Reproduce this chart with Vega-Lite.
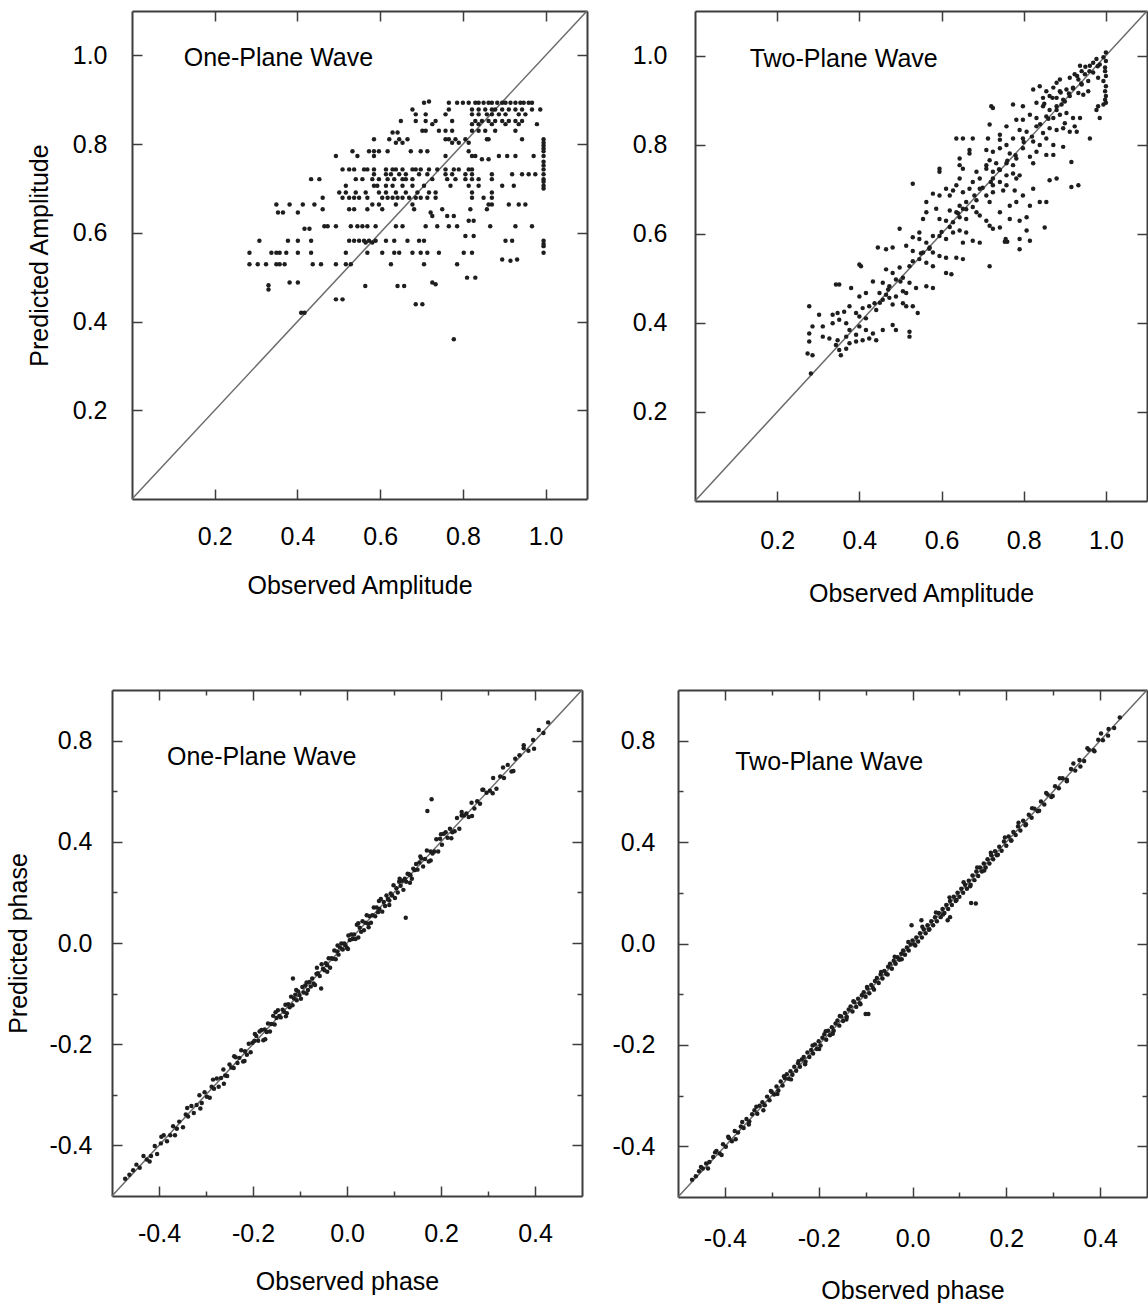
{
  "$schema": "https://vega.github.io/schema/vega-lite/v6.json",
  "padding": {"left": 6, "top": 10, "right": 0, "bottom": 0},
  "config": {
    "font": "Liberation Sans",
    "view": {"stroke": null},
    "axis": {
      "domain": true,
      "domainColor": "#3d3d3d",
      "domainWidth": 2,
      "grid": false,
      "tickColor": "#3d3d3d",
      "tickWidth": 1.5,
      "tickSize": -10,
      "labelFont": "Liberation Sans",
      "labelFontSize": 25,
      "labelColor": "#000000",
      "titleFont": "Liberation Sans",
      "titleFontSize": 25,
      "titleFontWeight": "normal",
      "titleColor": "#000000",
      "labelOverlap": false,
      "labelFlush": false
    }
  },
  "datasets": {
    "ampOnePlane": [
      {"obs":0.706,"pred":0.893},{"obs":0.718,"pred":0.896},{"obs":0.766,"pred":0.893},{"obs":0.786,"pred":0.893},{"obs":0.800,"pred":0.893},{"obs":0.814,"pred":0.893},{"obs":0.830,"pred":0.893},{"obs":0.838,"pred":0.893},{"obs":0.850,"pred":0.893},{"obs":0.862,"pred":0.893},{"obs":0.870,"pred":0.893},{"obs":0.883,"pred":0.893},{"obs":0.895,"pred":0.893},{"obs":0.903,"pred":0.893},{"obs":0.915,"pred":0.893},{"obs":0.927,"pred":0.893},{"obs":0.939,"pred":0.893},{"obs":0.947,"pred":0.893},{"obs":0.959,"pred":0.893},{"obs":0.967,"pred":0.893},
      {"obs":0.678,"pred":0.878},{"obs":0.766,"pred":0.878},{"obs":0.822,"pred":0.878},{"obs":0.838,"pred":0.878},{"obs":0.854,"pred":0.878},{"obs":0.870,"pred":0.878},{"obs":0.878,"pred":0.878},{"obs":0.895,"pred":0.878},{"obs":0.911,"pred":0.878},{"obs":0.927,"pred":0.878},{"obs":0.943,"pred":0.878},{"obs":0.967,"pred":0.878},{"obs":0.987,"pred":0.878},
      {"obs":0.686,"pred":0.867},{"obs":0.710,"pred":0.867},{"obs":0.758,"pred":0.867},{"obs":0.822,"pred":0.867},{"obs":0.838,"pred":0.867},{"obs":0.858,"pred":0.867},{"obs":0.870,"pred":0.867},{"obs":0.887,"pred":0.867},{"obs":0.903,"pred":0.867},{"obs":0.935,"pred":0.867},{"obs":0.951,"pred":0.867},
      {"obs":0.650,"pred":0.852},{"obs":0.686,"pred":0.852},{"obs":0.710,"pred":0.852},{"obs":0.734,"pred":0.852},{"obs":0.774,"pred":0.852},{"obs":0.830,"pred":0.852},{"obs":0.846,"pred":0.852},{"obs":0.862,"pred":0.852},{"obs":0.878,"pred":0.852},{"obs":0.895,"pred":0.852},{"obs":0.911,"pred":0.852},{"obs":0.927,"pred":0.852},{"obs":0.943,"pred":0.852},
      {"obs":0.726,"pred":0.845},{"obs":0.822,"pred":0.845},{"obs":0.838,"pred":0.845},{"obs":0.870,"pred":0.845},{"obs":0.903,"pred":0.845},{"obs":0.935,"pred":0.845},{"obs":0.979,"pred":0.845},
      {"obs":0.702,"pred":0.830},{"obs":0.710,"pred":0.830},{"obs":0.742,"pred":0.830},{"obs":0.758,"pred":0.830},{"obs":0.774,"pred":0.830},{"obs":0.822,"pred":0.830},{"obs":0.838,"pred":0.830},{"obs":0.854,"pred":0.830},{"obs":0.878,"pred":0.830},{"obs":0.927,"pred":0.830},
      {"obs":0.630,"pred":0.826},{"obs":0.642,"pred":0.826},
      {"obs":0.585,"pred":0.811},{"obs":0.622,"pred":0.811},{"obs":0.646,"pred":0.811},{"obs":0.666,"pred":0.811},{"obs":0.758,"pred":0.811},{"obs":0.766,"pred":0.811},{"obs":0.782,"pred":0.811},{"obs":0.806,"pred":0.811},{"obs":0.858,"pred":0.811},{"obs":0.862,"pred":0.811},{"obs":0.943,"pred":0.811},{"obs":0.995,"pred":0.811},
      {"obs":0.638,"pred":0.803},{"obs":0.654,"pred":0.803},{"obs":0.774,"pred":0.803},{"obs":0.790,"pred":0.803},{"obs":0.814,"pred":0.803},{"obs":0.995,"pred":0.803},
      {"obs":0.533,"pred":0.784},{"obs":0.573,"pred":0.784},{"obs":0.585,"pred":0.784},{"obs":0.597,"pred":0.784},{"obs":0.618,"pred":0.784},{"obs":0.674,"pred":0.784},{"obs":0.698,"pred":0.784},{"obs":0.714,"pred":0.784},{"obs":0.814,"pred":0.784},{"obs":0.995,"pred":0.784},
      {"obs":0.493,"pred":0.773},{"obs":0.545,"pred":0.773},{"obs":0.585,"pred":0.773},{"obs":0.758,"pred":0.773},{"obs":0.822,"pred":0.773},{"obs":0.830,"pred":0.773},{"obs":0.846,"pred":0.766},{"obs":0.862,"pred":0.766},{"obs":0.887,"pred":0.773},{"obs":0.907,"pred":0.773},{"obs":0.927,"pred":0.773},{"obs":0.971,"pred":0.773},{"obs":0.995,"pred":0.773},
      {"obs":0.509,"pred":0.743},{"obs":0.525,"pred":0.743},{"obs":0.537,"pred":0.743},{"obs":0.561,"pred":0.743},{"obs":0.569,"pred":0.743},{"obs":0.585,"pred":0.743},{"obs":0.614,"pred":0.743},{"obs":0.630,"pred":0.743},{"obs":0.638,"pred":0.743},{"obs":0.654,"pred":0.743},{"obs":0.678,"pred":0.743},{"obs":0.686,"pred":0.743},{"obs":0.698,"pred":0.743},{"obs":0.718,"pred":0.743},{"obs":0.738,"pred":0.743},{"obs":0.758,"pred":0.743},{"obs":0.778,"pred":0.743},{"obs":0.790,"pred":0.743},{"obs":0.814,"pred":0.743},{"obs":0.822,"pred":0.743},{"obs":0.995,"pred":0.743},
      {"obs":0.585,"pred":0.732},{"obs":0.614,"pred":0.732},{"obs":0.626,"pred":0.732},{"obs":0.646,"pred":0.732},{"obs":0.662,"pred":0.732},{"obs":0.694,"pred":0.732},{"obs":0.714,"pred":0.732},{"obs":0.758,"pred":0.732},{"obs":0.774,"pred":0.732},{"obs":0.806,"pred":0.732},{"obs":0.822,"pred":0.732},{"obs":0.870,"pred":0.732},{"obs":0.919,"pred":0.732},{"obs":0.943,"pred":0.732},{"obs":0.959,"pred":0.732},{"obs":0.975,"pred":0.732},{"obs":0.995,"pred":0.732},
      {"obs":0.433,"pred":0.721},{"obs":0.453,"pred":0.721},{"obs":0.541,"pred":0.721},{"obs":0.557,"pred":0.721},{"obs":0.581,"pred":0.721},{"obs":0.597,"pred":0.721},{"obs":0.618,"pred":0.721},{"obs":0.634,"pred":0.721},{"obs":0.654,"pred":0.721},{"obs":0.662,"pred":0.721},{"obs":0.678,"pred":0.721},{"obs":0.726,"pred":0.721},{"obs":0.762,"pred":0.721},{"obs":0.782,"pred":0.721},{"obs":0.806,"pred":0.721},{"obs":0.822,"pred":0.721},{"obs":0.838,"pred":0.721},{"obs":0.870,"pred":0.721},{"obs":0.995,"pred":0.721},
      {"obs":0.517,"pred":0.706},{"obs":0.585,"pred":0.706},{"obs":0.593,"pred":0.706},{"obs":0.614,"pred":0.706},{"obs":0.630,"pred":0.706},{"obs":0.654,"pred":0.706},{"obs":0.678,"pred":0.706},{"obs":0.706,"pred":0.706},{"obs":0.770,"pred":0.706},{"obs":0.814,"pred":0.706},{"obs":0.838,"pred":0.706},{"obs":0.895,"pred":0.706},{"obs":0.923,"pred":0.706},{"obs":0.995,"pred":0.706},
      {"obs":0.501,"pred":0.691},{"obs":0.517,"pred":0.691},{"obs":0.541,"pred":0.691},{"obs":0.565,"pred":0.691},{"obs":0.597,"pred":0.691},{"obs":0.614,"pred":0.691},{"obs":0.638,"pred":0.691},{"obs":0.662,"pred":0.691},{"obs":0.690,"pred":0.691},{"obs":0.718,"pred":0.691},{"obs":0.734,"pred":0.691},{"obs":0.822,"pred":0.691},{"obs":0.870,"pred":0.691},
      {"obs":0.461,"pred":0.679},{"obs":0.509,"pred":0.679},{"obs":0.525,"pred":0.679},{"obs":0.537,"pred":0.679},{"obs":0.549,"pred":0.679},{"obs":0.569,"pred":0.679},{"obs":0.605,"pred":0.679},{"obs":0.618,"pred":0.679},{"obs":0.630,"pred":0.679},{"obs":0.642,"pred":0.679},{"obs":0.654,"pred":0.679},{"obs":0.670,"pred":0.679},{"obs":0.686,"pred":0.679},{"obs":0.698,"pred":0.679},{"obs":0.714,"pred":0.679},{"obs":0.734,"pred":0.679},{"obs":0.822,"pred":0.679},{"obs":0.850,"pred":0.679},{"obs":0.870,"pred":0.679},
      {"obs":0.349,"pred":0.664},{"obs":0.381,"pred":0.664},{"obs":0.413,"pred":0.664},{"obs":0.441,"pred":0.664},{"obs":0.581,"pred":0.664},{"obs":0.597,"pred":0.664},{"obs":0.638,"pred":0.664},{"obs":0.678,"pred":0.664},{"obs":0.862,"pred":0.664},{"obs":0.870,"pred":0.664},{"obs":0.911,"pred":0.664},{"obs":0.935,"pred":0.664},{"obs":0.951,"pred":0.664},
      {"obs":0.461,"pred":0.653},{"obs":0.525,"pred":0.653},{"obs":0.537,"pred":0.653},{"obs":0.569,"pred":0.653},{"obs":0.605,"pred":0.653},{"obs":0.682,"pred":0.653},{"obs":0.750,"pred":0.653},{"obs":0.818,"pred":0.653},{"obs":0.858,"pred":0.653},
      {"obs":0.353,"pred":0.646},{"obs":0.365,"pred":0.646},{"obs":0.401,"pred":0.646},{"obs":0.722,"pred":0.646},
      {"obs":0.726,"pred":0.638},{"obs":0.762,"pred":0.638},{"obs":0.778,"pred":0.638},
      {"obs":0.814,"pred":0.627},{"obs":0.826,"pred":0.627},
      {"obs":0.465,"pred":0.615},{"obs":0.473,"pred":0.615},{"obs":0.493,"pred":0.615},{"obs":0.529,"pred":0.615},{"obs":0.545,"pred":0.615},{"obs":0.557,"pred":0.615},{"obs":0.569,"pred":0.615},{"obs":0.589,"pred":0.615},{"obs":0.638,"pred":0.615},{"obs":0.654,"pred":0.615},{"obs":0.710,"pred":0.615},{"obs":0.738,"pred":0.615},{"obs":0.766,"pred":0.615},{"obs":0.786,"pred":0.615},{"obs":0.866,"pred":0.615},{"obs":0.927,"pred":0.615},{"obs":0.967,"pred":0.615},
      {"obs":0.417,"pred":0.609},{"obs":0.429,"pred":0.609},
      {"obs":0.806,"pred":0.593},{"obs":0.826,"pred":0.593},
      {"obs":0.308,"pred":0.582},{"obs":0.377,"pred":0.582},{"obs":0.401,"pred":0.582},{"obs":0.433,"pred":0.582},{"obs":0.525,"pred":0.582},{"obs":0.537,"pred":0.582},{"obs":0.549,"pred":0.582},{"obs":0.561,"pred":0.582},{"obs":0.573,"pred":0.582},{"obs":0.589,"pred":0.582},{"obs":0.614,"pred":0.582},{"obs":0.634,"pred":0.582},{"obs":0.666,"pred":0.582},{"obs":0.694,"pred":0.582},{"obs":0.706,"pred":0.582},{"obs":0.903,"pred":0.582},{"obs":0.919,"pred":0.582},{"obs":0.995,"pred":0.582},
      {"obs":0.565,"pred":0.578},{"obs":0.581,"pred":0.578},
      {"obs":0.284,"pred":0.555},{"obs":0.337,"pred":0.555},{"obs":0.349,"pred":0.555},{"obs":0.357,"pred":0.555},{"obs":0.373,"pred":0.555},{"obs":0.401,"pred":0.555},{"obs":0.433,"pred":0.555},{"obs":0.517,"pred":0.555},{"obs":0.569,"pred":0.555},{"obs":0.605,"pred":0.555},{"obs":0.634,"pred":0.555},{"obs":0.646,"pred":0.555},{"obs":0.678,"pred":0.555},{"obs":0.698,"pred":0.555},{"obs":0.714,"pred":0.555},{"obs":0.742,"pred":0.555},{"obs":0.802,"pred":0.555},{"obs":0.822,"pred":0.555},{"obs":0.995,"pred":0.555},
      {"obs":0.895,"pred":0.540},{"obs":0.915,"pred":0.537},{"obs":0.931,"pred":0.540},
      {"obs":0.284,"pred":0.529},{"obs":0.304,"pred":0.529},{"obs":0.324,"pred":0.529},{"obs":0.349,"pred":0.529},{"obs":0.357,"pred":0.529},{"obs":0.369,"pred":0.529},{"obs":0.437,"pred":0.529},{"obs":0.457,"pred":0.529},{"obs":0.493,"pred":0.529},{"obs":0.517,"pred":0.529},{"obs":0.529,"pred":0.529},{"obs":0.626,"pred":0.529},{"obs":0.706,"pred":0.529},{"obs":0.786,"pred":0.529},
      {"obs":0.810,"pred":0.499},{"obs":0.830,"pred":0.499},
      {"obs":0.381,"pred":0.488},{"obs":0.401,"pred":0.488},{"obs":0.726,"pred":0.488},{"obs":0.734,"pred":0.484},
      {"obs":0.564,"pred":0.480},{"obs":0.642,"pred":0.480},{"obs":0.658,"pred":0.480},
      {"obs":0.330,"pred":0.482},{"obs":0.330,"pred":0.472},
      {"obs":0.493,"pred":0.450},{"obs":0.509,"pred":0.450},
      {"obs":0.686,"pred":0.439},{"obs":0.702,"pred":0.439},
      {"obs":0.409,"pred":0.420},{"obs":0.417,"pred":0.420},
      {"obs":0.778,"pred":0.360},
      {"obs":0.995,"pred":0.760},{"obs":0.995,"pred":0.752},{"obs":0.995,"pred":0.700},{"obs":0.995,"pred":0.715},{"obs":0.995,"pred":0.790},{"obs":0.995,"pred":0.797},{"obs":0.995,"pred":0.570},{"obs":0.995,"pred":0.575}
    ],
    "ampTwoPlane": [
      {"obs":1.000,"pred":1.007},{"obs":0.994,"pred":0.996},{"obs":0.977,"pred":0.992},{"obs":0.969,"pred":0.984},{"obs":0.985,"pred":0.980},{"obs":1.000,"pred":0.988},{"obs":0.998,"pred":0.973},{"obs":0.961,"pred":0.977},
      {"obs":0.998,"pred":0.965},{"obs":1.000,"pred":0.954},{"obs":0.994,"pred":0.943},{"obs":1.000,"pred":0.931},{"obs":0.998,"pred":0.920},{"obs":1.000,"pred":0.909},{"obs":0.998,"pred":0.901},{"obs":0.994,"pred":0.890},
      {"obs":0.937,"pred":0.977},{"obs":0.941,"pred":0.965},{"obs":0.949,"pred":0.958},{"obs":0.924,"pred":0.958},{"obs":0.969,"pred":0.962},{"obs":0.981,"pred":0.950},{"obs":0.933,"pred":0.946},{"obs":0.912,"pred":0.950},{"obs":0.957,"pred":0.943},{"obs":0.888,"pred":0.946},{"obs":0.880,"pred":0.939},{"obs":0.941,"pred":0.935},
      {"obs":0.839,"pred":0.931},{"obs":0.855,"pred":0.920},{"obs":0.872,"pred":0.928},{"obs":0.888,"pred":0.920},{"obs":0.904,"pred":0.924},{"obs":0.920,"pred":0.928},{"obs":0.933,"pred":0.916},{"obs":0.945,"pred":0.912},{"obs":0.957,"pred":0.920},{"obs":0.863,"pred":0.909},{"obs":0.847,"pred":0.905},{"obs":0.880,"pred":0.905},{"obs":0.896,"pred":0.901},{"obs":0.912,"pred":0.909},{"obs":0.823,"pred":0.924},{"obs":0.831,"pred":0.894},{"obs":0.892,"pred":0.890},{"obs":0.981,"pred":0.886},{"obs":1.000,"pred":0.894},
      {"obs":0.847,"pred":0.886},{"obs":0.863,"pred":0.878},{"obs":0.880,"pred":0.878},{"obs":0.888,"pred":0.867},{"obs":0.904,"pred":0.871},{"obs":0.920,"pred":0.860},{"obs":0.872,"pred":0.860},{"obs":0.855,"pred":0.863},{"obs":0.831,"pred":0.860},{"obs":0.815,"pred":0.867},{"obs":0.798,"pred":0.856},{"obs":0.782,"pred":0.856},{"obs":0.774,"pred":0.890},{"obs":0.798,"pred":0.886},{"obs":0.721,"pred":0.886},{"obs":0.725,"pred":0.882},{"obs":0.977,"pred":0.878},{"obs":0.985,"pred":0.860},{"obs":0.937,"pred":0.860},{"obs":0.900,"pred":0.848},{"obs":0.924,"pred":0.841},{"obs":0.961,"pred":0.814},
      {"obs":0.758,"pred":0.841},{"obs":0.790,"pred":0.833},{"obs":0.807,"pred":0.829},{"obs":0.831,"pred":0.841},{"obs":0.847,"pred":0.826},{"obs":0.863,"pred":0.837},{"obs":0.880,"pred":0.833},{"obs":0.896,"pred":0.837},{"obs":0.912,"pred":0.829},{"obs":0.929,"pred":0.829},{"obs":0.742,"pred":0.822},{"obs":0.774,"pred":0.814},{"obs":0.798,"pred":0.814},{"obs":0.823,"pred":0.807},{"obs":0.839,"pred":0.799},{"obs":0.855,"pred":0.814},{"obs":0.872,"pred":0.799},{"obs":0.896,"pred":0.795},{"obs":0.713,"pred":0.814},{"obs":0.717,"pred":0.845},{"obs":0.636,"pred":0.814},{"obs":0.652,"pred":0.814},{"obs":0.676,"pred":0.814},{"obs":0.742,"pred":0.811},{"obs":0.758,"pred":0.799},
      {"obs":0.668,"pred":0.788},{"obs":0.668,"pred":0.780},{"obs":0.709,"pred":0.788},{"obs":0.725,"pred":0.784},{"obs":0.742,"pred":0.792},{"obs":0.766,"pred":0.780},{"obs":0.782,"pred":0.769},{"obs":0.798,"pred":0.792},{"obs":0.815,"pred":0.773},{"obs":0.831,"pred":0.784},{"obs":0.855,"pred":0.777},{"obs":0.872,"pred":0.777},{"obs":0.916,"pred":0.761},{"obs":0.717,"pred":0.765},{"obs":0.733,"pred":0.758},{"obs":0.758,"pred":0.758},{"obs":0.774,"pred":0.754},{"obs":0.823,"pred":0.758},{"obs":0.644,"pred":0.769},{"obs":0.709,"pred":0.754},
      {"obs":0.644,"pred":0.754},{"obs":0.652,"pred":0.746},{"obs":0.685,"pred":0.739},{"obs":0.709,"pred":0.746},{"obs":0.725,"pred":0.739},{"obs":0.742,"pred":0.743},{"obs":0.758,"pred":0.731},{"obs":0.774,"pred":0.735},{"obs":0.782,"pred":0.724},{"obs":0.693,"pred":0.724},{"obs":0.725,"pred":0.724},{"obs":0.742,"pred":0.716},{"obs":0.676,"pred":0.716},{"obs":0.644,"pred":0.724},{"obs":0.636,"pred":0.709},{"obs":0.595,"pred":0.746},{"obs":0.595,"pred":0.739},{"obs":0.790,"pred":0.731},{"obs":0.863,"pred":0.720},{"obs":0.880,"pred":0.724},{"obs":0.916,"pred":0.705},{"obs":0.933,"pred":0.709},{"obs":0.530,"pred":0.712},{"obs":0.725,"pred":0.709},{"obs":0.758,"pred":0.709},
      {"obs":0.611,"pred":0.701},{"obs":0.628,"pred":0.697},{"obs":0.652,"pred":0.693},{"obs":0.668,"pred":0.701},{"obs":0.693,"pred":0.701},{"obs":0.709,"pred":0.686},{"obs":0.717,"pred":0.671},{"obs":0.685,"pred":0.675},{"obs":0.660,"pred":0.671},{"obs":0.644,"pred":0.663},{"obs":0.620,"pred":0.686},{"obs":0.579,"pred":0.690},{"obs":0.595,"pred":0.686},{"obs":0.563,"pred":0.671},{"obs":0.750,"pred":0.697},{"obs":0.778,"pred":0.697},{"obs":0.823,"pred":0.701},{"obs":0.798,"pred":0.686},{"obs":0.725,"pred":0.693},{"obs":0.782,"pred":0.671},{"obs":0.815,"pred":0.663},{"obs":0.839,"pred":0.671},{"obs":0.855,"pred":0.671},{"obs":0.766,"pred":0.663},
      {"obs":0.587,"pred":0.656},{"obs":0.620,"pred":0.652},{"obs":0.636,"pred":0.648},{"obs":0.652,"pred":0.656},{"obs":0.676,"pred":0.660},{"obs":0.685,"pred":0.648},{"obs":0.563,"pred":0.648},{"obs":0.595,"pred":0.633},{"obs":0.611,"pred":0.629},{"obs":0.628,"pred":0.626},{"obs":0.644,"pred":0.637},{"obs":0.660,"pred":0.633},{"obs":0.693,"pred":0.641},{"obs":0.709,"pred":0.629},{"obs":0.742,"pred":0.648},{"obs":0.766,"pred":0.633},{"obs":0.790,"pred":0.629},{"obs":0.807,"pred":0.637},{"obs":0.742,"pred":0.614},{"obs":0.717,"pred":0.618},{"obs":0.555,"pred":0.633},
      {"obs":0.498,"pred":0.611},{"obs":0.530,"pred":0.592},{"obs":0.546,"pred":0.588},{"obs":0.563,"pred":0.580},{"obs":0.579,"pred":0.595},{"obs":0.595,"pred":0.595},{"obs":0.611,"pred":0.588},{"obs":0.628,"pred":0.603},{"obs":0.644,"pred":0.607},{"obs":0.660,"pred":0.603},{"obs":0.676,"pred":0.584},{"obs":0.652,"pred":0.580},{"obs":0.693,"pred":0.580},{"obs":0.725,"pred":0.611},{"obs":0.756,"pred":0.588},{"obs":0.760,"pred":0.582},{"obs":0.754,"pred":0.582},{"obs":0.790,"pred":0.588},{"obs":0.807,"pred":0.607},{"obs":0.815,"pred":0.584},{"obs":0.790,"pred":0.565},{"obs":0.851,"pred":0.614},{"obs":0.546,"pred":0.603},{"obs":0.571,"pred":0.569},
      {"obs":0.445,"pred":0.569},{"obs":0.465,"pred":0.565},{"obs":0.481,"pred":0.569},{"obs":0.514,"pred":0.573},{"obs":0.530,"pred":0.561},{"obs":0.555,"pred":0.558},{"obs":0.579,"pred":0.558},{"obs":0.595,"pred":0.550},{"obs":0.611,"pred":0.546},{"obs":0.636,"pred":0.546},{"obs":0.652,"pred":0.543},{"obs":0.546,"pred":0.543},{"obs":0.563,"pred":0.535},{"obs":0.522,"pred":0.527},{"obs":0.498,"pred":0.524},{"obs":0.465,"pred":0.520},{"obs":0.481,"pred":0.512},{"obs":0.400,"pred":0.531},{"obs":0.404,"pred":0.527},{"obs":0.611,"pred":0.512},{"obs":0.624,"pred":0.509},{"obs":0.717,"pred":0.527},{"obs":0.579,"pred":0.527},
      {"obs":0.433,"pred":0.493},{"obs":0.457,"pred":0.490},{"obs":0.473,"pred":0.482},{"obs":0.489,"pred":0.497},{"obs":0.506,"pred":0.501},{"obs":0.522,"pred":0.490},{"obs":0.538,"pred":0.478},{"obs":0.563,"pred":0.482},{"obs":0.579,"pred":0.478},{"obs":0.449,"pred":0.467},{"obs":0.465,"pred":0.463},{"obs":0.489,"pred":0.459},{"obs":0.506,"pred":0.471},{"obs":0.514,"pred":0.467},{"obs":0.343,"pred":0.486},{"obs":0.351,"pred":0.486},{"obs":0.380,"pred":0.478},{"obs":0.416,"pred":0.467},{"obs":0.400,"pred":0.459},
      {"obs":0.437,"pred":0.444},{"obs":0.424,"pred":0.437},{"obs":0.408,"pred":0.433},{"obs":0.392,"pred":0.422},{"obs":0.376,"pred":0.437},{"obs":0.363,"pred":0.425},{"obs":0.347,"pred":0.422},{"obs":0.335,"pred":0.418},{"obs":0.302,"pred":0.418},{"obs":0.278,"pred":0.437},{"obs":0.441,"pred":0.429},{"obs":0.457,"pred":0.452},{"obs":0.473,"pred":0.456},{"obs":0.481,"pred":0.441},{"obs":0.506,"pred":0.444},{"obs":0.514,"pred":0.437},{"obs":0.530,"pred":0.437},{"obs":0.542,"pred":0.422},{"obs":0.400,"pred":0.414},{"obs":0.416,"pred":0.410},
      {"obs":0.286,"pred":0.392},{"obs":0.278,"pred":0.376},{"obs":0.311,"pred":0.392},{"obs":0.335,"pred":0.399},{"obs":0.351,"pred":0.407},{"obs":0.368,"pred":0.399},{"obs":0.376,"pred":0.384},{"obs":0.392,"pred":0.373},{"obs":0.400,"pred":0.392},{"obs":0.416,"pred":0.384},{"obs":0.433,"pred":0.376},{"obs":0.457,"pred":0.384},{"obs":0.481,"pred":0.395},{"obs":0.489,"pred":0.384},{"obs":0.522,"pred":0.380},{"obs":0.522,"pred":0.369},{"obs":0.311,"pred":0.369},{"obs":0.327,"pred":0.365},{"obs":0.347,"pred":0.361},{"obs":0.368,"pred":0.369},
      {"obs":0.278,"pred":0.358},{"obs":0.274,"pred":0.331},{"obs":0.286,"pred":0.327},{"obs":0.343,"pred":0.350},{"obs":0.351,"pred":0.339},{"obs":0.368,"pred":0.342},{"obs":0.355,"pred":0.327},{"obs":0.376,"pred":0.354},{"obs":0.392,"pred":0.358},{"obs":0.408,"pred":0.361},{"obs":0.424,"pred":0.365},{"obs":0.441,"pred":0.361},{"obs":0.282,"pred":0.286},
      {"obs":0.450,"pred":0.445},{"obs":0.470,"pred":0.475},{"obs":0.500,"pred":0.493},{"obs":0.530,"pred":0.538},{"obs":0.550,"pred":0.556},{"obs":0.570,"pred":0.566},{"obs":0.600,"pred":0.604},{"obs":0.620,"pred":0.615},{"obs":0.640,"pred":0.646},{"obs":0.660,"pred":0.655},{"obs":0.680,"pred":0.686},{"obs":0.700,"pred":0.703},{"obs":0.720,"pred":0.716},{"obs":0.740,"pred":0.745},{"obs":0.760,"pred":0.764},{"obs":0.780,"pred":0.776},{"obs":0.800,"pred":0.806},{"obs":0.820,"pred":0.818},{"obs":0.840,"pred":0.846},{"obs":0.860,"pred":0.858},{"obs":0.880,"pred":0.886},{"obs":0.900,"pred":0.897},{"obs":0.920,"pred":0.926},{"obs":0.940,"pred":0.937},{"obs":0.960,"pred":0.965},{"obs":0.980,"pred":0.976},{"obs":0.870,"pred":0.905},{"obs":0.890,"pred":0.917},{"obs":0.910,"pred":0.915},{"obs":0.850,"pred":0.892},{"obs":0.930,"pred":0.954},{"obs":0.950,"pred":0.975}
    ],
    "phaseOnePlane": [
      {"obs":-0.472,"pred":-0.466},{"obs":-0.463,"pred":-0.458},{"obs":-0.455,"pred":-0.449},{"obs":-0.441,"pred":-0.444},{"obs":-0.433,"pred":-0.421},{"obs":-0.426,"pred":-0.428},{"obs":-0.417,"pred":-0.421},{"obs":-0.409,"pred":-0.401},{"obs":-0.404,"pred":-0.417},{"obs":-0.396,"pred":-0.396},{"obs":-0.390,"pred":-0.380},{"obs":-0.383,"pred":-0.392},{"obs":-0.376,"pred":-0.380},{"obs":-0.370,"pred":-0.362},{"obs":-0.362,"pred":-0.367},{"obs":-0.357,"pred":-0.353},{"obs":-0.349,"pred":-0.364},{"obs":-0.343,"pred":-0.339},{"obs":-0.338,"pred":-0.343},{"obs":-0.331,"pred":-0.322},{"obs":-0.326,"pred":-0.336},{"obs":-0.320,"pred":-0.320},{"obs":-0.314,"pred":-0.301},{"obs":-0.309,"pred":-0.316},{"obs":-0.303,"pred":-0.295},{"obs":-0.298,"pred":-0.304},{"obs":-0.292,"pred":-0.306},{"obs":-0.288,"pred":-0.284},{"obs":-0.283,"pred":-0.288},{"obs":-0.277,"pred":-0.268},{"obs":-0.273,"pred":-0.284},{"obs":-0.268,"pred":-0.267},{"obs":-0.263,"pred":-0.250},{"obs":-0.259,"pred":-0.262},{"obs":-0.255,"pred":-0.263},{"obs":-0.250,"pred":-0.240},{"obs":-0.246,"pred":-0.246},{"obs":-0.241,"pred":-0.247},{"obs":-0.237,"pred":-0.226},{"obs":-0.233,"pred":-0.237},{"obs":-0.229,"pred":-0.227},{"obs":-0.225,"pred":-0.212},{"obs":-0.221,"pred":-0.234},{"obs":-0.217,"pred":-0.214},{"obs":-0.213,"pred":-0.221},{"obs":-0.209,"pred":-0.199},{"obs":-0.205,"pred":-0.216},{"obs":-0.201,"pred":-0.197},{"obs":-0.197,"pred":-0.193},{"obs":-0.193,"pred":-0.184},{"obs":-0.189,"pred":-0.193},{"obs":-0.186,"pred":-0.175},{"obs":-0.182,"pred":-0.172},{"obs":-0.178,"pred":-0.192},{"obs":-0.175,"pred":-0.171},{"obs":-0.171,"pred":-0.176},{"obs":-0.168,"pred":-0.159},{"obs":-0.164,"pred":-0.175},{"obs":-0.161,"pred":-0.160},{"obs":-0.157,"pred":-0.144},{"obs":-0.154,"pred":-0.161},{"obs":-0.150,"pred":-0.148},{"obs":-0.147,"pred":-0.133},{"obs":-0.144,"pred":-0.144},{"obs":-0.141,"pred":-0.147},{"obs":-0.137,"pred":-0.132},{"obs":-0.134,"pred":-0.136},{"obs":-0.131,"pred":-0.122},{"obs":-0.128,"pred":-0.139},{"obs":-0.125,"pred":-0.121},{"obs":-0.122,"pred":-0.127},{"obs":-0.119,"pred":-0.106},{"obs":-0.115,"pred":-0.070},{"obs":-0.116,"pred":-0.123},{"obs":-0.113,"pred":-0.109},{"obs":-0.110,"pred":-0.102},{"obs":-0.107,"pred":-0.113},{"obs":-0.104,"pred":-0.096},{"obs":-0.101,"pred":-0.103},{"obs":-0.098,"pred":-0.110},{"obs":-0.095,"pred":-0.087},{"obs":-0.092,"pred":-0.098},{"obs":-0.089,"pred":-0.084},{"obs":-0.086,"pred":-0.078},{"obs":-0.083,"pred":-0.093},{"obs":-0.080,"pred":-0.077},{"obs":-0.077,"pred":-0.086},{"obs":-0.074,"pred":-0.070},{"obs":-0.071,"pred":-0.080},{"obs":-0.068,"pred":-0.083},{"obs":-0.065,"pred":-0.061},{"obs":-0.062,"pred":-0.060},{"obs":-0.058,"pred":-0.065},{"obs":-0.055,"pred":-0.090},{"obs":-0.054,"pred":-0.042},{"obs":-0.051,"pred":-0.051},{"obs":-0.048,"pred":-0.054},{"obs":-0.045,"pred":-0.040},{"obs":-0.042,"pred":-0.044},{"obs":-0.039,"pred":-0.030},{"obs":-0.036,"pred":-0.049},{"obs":-0.033,"pred":-0.030},{"obs":-0.030,"pred":-0.031},{"obs":-0.027,"pred":-0.015},{"obs":-0.024,"pred":-0.032},{"obs":-0.021,"pred":-0.017},{"obs":-0.018,"pred":-0.023},{"obs":-0.015,"pred":-0.009},{"obs":-0.012,"pred":-0.001},{"obs":-0.009,"pred":-0.013},{"obs":-0.006,"pred":-0.001},{"obs":-0.003,"pred":-0.005},{"obs":0.000,"pred":-0.010},{"obs":0.003,"pred":0.015},{"obs":0.006,"pred":0.006},{"obs":0.009,"pred":0.017},{"obs":0.012,"pred":0.008},{"obs":0.015,"pred":0.017},{"obs":0.018,"pred":0.008},{"obs":0.021,"pred":0.036},{"obs":0.024,"pred":0.011},{"obs":0.027,"pred":0.030},{"obs":0.030,"pred":0.022},{"obs":0.033,"pred":0.043},{"obs":0.036,"pred":0.025},{"obs":0.039,"pred":0.040},{"obs":0.042,"pred":0.055},{"obs":0.045,"pred":0.038},{"obs":0.048,"pred":0.053},{"obs":0.051,"pred":0.040},{"obs":0.054,"pred":0.055},{"obs":0.057,"pred":0.070},{"obs":0.060,"pred":0.053},{"obs":0.063,"pred":0.070},{"obs":0.066,"pred":0.061},{"obs":0.069,"pred":0.067},{"obs":0.072,"pred":0.087},{"obs":0.075,"pred":0.062},{"obs":0.078,"pred":0.081},{"obs":0.081,"pred":0.073},{"obs":0.084,"pred":0.094},{"obs":0.087,"pred":0.087},{"obs":0.090,"pred":0.084},{"obs":0.093,"pred":0.098},{"obs":0.096,"pred":0.094},{"obs":0.099,"pred":0.114},{"obs":0.102,"pred":0.089},{"obs":0.105,"pred":0.108},{"obs":0.108,"pred":0.100},{"obs":0.111,"pred":0.121},{"obs":0.114,"pred":0.113},{"obs":0.117,"pred":0.123},{"obs":0.120,"pred":0.105},{"obs":0.123,"pred":0.127},{"obs":0.125,"pred":0.050},{"obs":0.126,"pred":0.121},{"obs":0.129,"pred":0.137},{"obs":0.132,"pred":0.136},{"obs":0.135,"pred":0.134},{"obs":0.138,"pred":0.127},{"obs":0.141,"pred":0.147},{"obs":0.144,"pred":0.144},{"obs":0.147,"pred":0.156},{"obs":0.150,"pred":0.145},{"obs":0.154,"pred":0.159},{"obs":0.158,"pred":0.167},{"obs":0.162,"pred":0.151},{"obs":0.166,"pred":0.166},{"obs":0.171,"pred":0.261},{"obs":0.170,"pred":0.183},{"obs":0.174,"pred":0.161},{"obs":0.178,"pred":0.181},{"obs":0.180,"pred":0.284},{"obs":0.182,"pred":0.177},{"obs":0.186,"pred":0.181},{"obs":0.190,"pred":0.205},{"obs":0.194,"pred":0.181},{"obs":0.198,"pred":0.206},{"obs":0.202,"pred":0.194},{"obs":0.206,"pred":0.216},{"obs":0.210,"pred":0.219},{"obs":0.214,"pred":0.208},{"obs":0.219,"pred":0.226},{"obs":0.224,"pred":0.219},{"obs":0.229,"pred":0.221},{"obs":0.234,"pred":0.247},{"obs":0.239,"pred":0.226},{"obs":0.244,"pred":0.252},{"obs":0.249,"pred":0.252},{"obs":0.254,"pred":0.256},{"obs":0.259,"pred":0.249},{"obs":0.265,"pred":0.277},{"obs":0.271,"pred":0.266},{"obs":0.277,"pred":0.280},{"obs":0.283,"pred":0.275},{"obs":0.290,"pred":0.303},{"obs":0.297,"pred":0.297},{"obs":0.304,"pred":0.301},{"obs":0.311,"pred":0.326},{"obs":0.318,"pred":0.305},{"obs":0.326,"pred":0.329},{"obs":0.334,"pred":0.326},{"obs":0.342,"pred":0.352},{"obs":0.350,"pred":0.339},{"obs":0.358,"pred":0.364},{"obs":0.367,"pred":0.371},{"obs":0.376,"pred":0.385},{"obs":0.386,"pred":0.380},{"obs":0.396,"pred":0.401},{"obs":0.408,"pred":0.421},{"obs":0.418,"pred":0.415},{"obs":0.428,"pred":0.436},
      {"obs":-0.448,"pred":-0.438},{"obs":-0.420,"pred":-0.432},{"obs":-0.395,"pred":-0.383},{"obs":-0.366,"pred":-0.380},{"obs":-0.340,"pred":-0.326},{"obs":-0.312,"pred":-0.327},{"obs":-0.285,"pred":-0.270},{"obs":-0.262,"pred":-0.278},{"obs":-0.240,"pred":-0.224},{"obs":-0.218,"pred":-0.233},{"obs":-0.196,"pred":-0.180},{"obs":-0.174,"pred":-0.190},{"obs":-0.152,"pred":-0.137},{"obs":-0.130,"pred":-0.145},{"obs":-0.108,"pred":-0.093},{"obs":-0.086,"pred":-0.100},{"obs":-0.064,"pred":-0.049},{"obs":-0.042,"pred":-0.057},{"obs":-0.020,"pred":-0.005},{"obs":0.002,"pred":-0.012},{"obs":0.024,"pred":0.039},{"obs":0.046,"pred":0.031},{"obs":0.068,"pred":0.083},{"obs":0.090,"pred":0.075},{"obs":0.112,"pred":0.127},{"obs":0.134,"pred":0.119},{"obs":0.156,"pred":0.171},{"obs":0.178,"pred":0.163},{"obs":0.200,"pred":0.215},{"obs":0.222,"pred":0.207},{"obs":0.244,"pred":0.259},{"obs":0.266,"pred":0.251},{"obs":0.288,"pred":0.303},{"obs":0.310,"pred":0.296},{"obs":0.332,"pred":0.347},{"obs":0.354,"pred":0.340},{"obs":0.376,"pred":0.391},{"obs":0.398,"pred":0.384}
    ],
    "phaseTwoPlane": [
      {"obs":-0.470,"pred":-0.466},{"obs":-0.462,"pred":-0.459},{"obs":-0.455,"pred":-0.449},{"obs":-0.447,"pred":-0.444},{"obs":-0.440,"pred":-0.434},{"obs":-0.433,"pred":-0.431},{"obs":-0.425,"pred":-0.421},{"obs":-0.418,"pred":-0.409},{"obs":-0.411,"pred":-0.414},{"obs":-0.404,"pred":-0.396},{"obs":-0.398,"pred":-0.401},{"obs":-0.391,"pred":-0.384},{"obs":-0.385,"pred":-0.390},{"obs":-0.379,"pred":-0.370},{"obs":-0.372,"pred":-0.373},{"obs":-0.366,"pred":-0.361},{"obs":-0.360,"pred":-0.364},{"obs":-0.354,"pred":-0.346},{"obs":-0.348,"pred":-0.351},{"obs":-0.342,"pred":-0.337},{"obs":-0.337,"pred":-0.329},{"obs":-0.331,"pred":-0.336},{"obs":-0.326,"pred":-0.320},{"obs":-0.320,"pred":-0.313},{"obs":-0.315,"pred":-0.319},{"obs":-0.310,"pred":-0.302},{"obs":-0.305,"pred":-0.309},{"obs":-0.300,"pred":-0.293},{"obs":-0.295,"pred":-0.298},{"obs":-0.290,"pred":-0.282},{"obs":-0.286,"pred":-0.290},{"obs":-0.281,"pred":-0.272},{"obs":-0.277,"pred":-0.280},{"obs":-0.272,"pred":-0.266},{"obs":-0.268,"pred":-0.258},{"obs":-0.264,"pred":-0.267},{"obs":-0.260,"pred":-0.252},{"obs":-0.256,"pred":-0.259},{"obs":-0.252,"pred":-0.243},{"obs":-0.248,"pred":-0.251},{"obs":-0.244,"pred":-0.236},{"obs":-0.240,"pred":-0.243},{"obs":-0.236,"pred":-0.229},{"obs":-0.232,"pred":-0.224},{"obs":-0.228,"pred":-0.233},{"obs":-0.224,"pred":-0.215},{"obs":-0.220,"pred":-0.224},{"obs":-0.216,"pred":-0.210},{"obs":-0.212,"pred":-0.217},{"obs":-0.208,"pred":-0.199},{"obs":-0.204,"pred":-0.208},{"obs":-0.200,"pred":-0.193},{"obs":-0.196,"pred":-0.201},{"obs":-0.192,"pred":-0.186},{"obs":-0.188,"pred":-0.179},{"obs":-0.184,"pred":-0.190},{"obs":-0.180,"pred":-0.172},{"obs":-0.176,"pred":-0.181},{"obs":-0.172,"pred":-0.165},{"obs":-0.168,"pred":-0.172},{"obs":-0.164,"pred":-0.158},{"obs":-0.160,"pred":-0.152},{"obs":-0.156,"pred":-0.162},{"obs":-0.152,"pred":-0.144},{"obs":-0.148,"pred":-0.153},{"obs":-0.144,"pred":-0.137},{"obs":-0.140,"pred":-0.145},{"obs":-0.136,"pred":-0.130},{"obs":-0.132,"pred":-0.124},{"obs":-0.128,"pred":-0.134},{"obs":-0.124,"pred":-0.116},{"obs":-0.120,"pred":-0.125},{"obs":-0.116,"pred":-0.109},{"obs":-0.112,"pred":-0.118},{"obs":-0.108,"pred":-0.102},{"obs":-0.104,"pred":-0.096},{"obs":-0.100,"pred":-0.139},{"obs":-0.094,"pred":-0.139},{"obs":-0.100,"pred":-0.105},{"obs":-0.096,"pred":-0.089},{"obs":-0.092,"pred":-0.098},{"obs":-0.088,"pred":-0.082},{"obs":-0.084,"pred":-0.088},{"obs":-0.080,"pred":-0.074},{"obs":-0.076,"pred":-0.068},{"obs":-0.072,"pred":-0.078},{"obs":-0.068,"pred":-0.061},{"obs":-0.064,"pred":-0.069},{"obs":-0.060,"pred":-0.054},{"obs":-0.056,"pred":-0.060},{"obs":-0.052,"pred":-0.046},{"obs":-0.048,"pred":-0.040},{"obs":-0.044,"pred":-0.050},{"obs":-0.040,"pred":-0.034},{"obs":-0.036,"pred":-0.040},{"obs":-0.032,"pred":-0.027},{"obs":-0.028,"pred":-0.032},{"obs":-0.024,"pred":-0.020},{"obs":-0.020,"pred":-0.014},{"obs":-0.016,"pred":-0.022},{"obs":-0.012,"pred":-0.008},{"obs":-0.008,"pred":-0.014},{"obs":-0.004,"pred":-0.002},{"obs":0.000,"pred":0.006},{"obs":-0.002,"pred":0.036},{"obs":0.004,"pred":-0.002},{"obs":0.008,"pred":0.012},{"obs":0.012,"pred":0.004},{"obs":0.016,"pred":0.020},{"obs":0.019,"pred":0.046},{"obs":0.020,"pred":0.012},{"obs":0.024,"pred":0.028},{"obs":0.028,"pred":0.020},{"obs":0.032,"pred":0.036},{"obs":0.036,"pred":0.028},{"obs":0.040,"pred":0.044},{"obs":0.044,"pred":0.036},{"obs":0.048,"pred":0.052},{"obs":0.052,"pred":0.044},{"obs":0.056,"pred":0.060},{"obs":0.060,"pred":0.052},{"obs":0.064,"pred":0.068},{"obs":0.068,"pred":0.060},{"obs":0.072,"pred":0.076},{"obs":0.075,"pred":0.046},{"obs":0.080,"pred":0.052},{"obs":0.076,"pred":0.068},{"obs":0.080,"pred":0.084},{"obs":0.084,"pred":0.076},{"obs":0.088,"pred":0.092},{"obs":0.092,"pred":0.084},{"obs":0.096,"pred":0.100},{"obs":0.100,"pred":0.092},{"obs":0.104,"pred":0.108},{"obs":0.108,"pred":0.100},{"obs":0.112,"pred":0.116},{"obs":0.116,"pred":0.108},{"obs":0.120,"pred":0.124},{"obs":0.125,"pred":0.080},{"obs":0.135,"pred":0.079},{"obs":0.124,"pred":0.116},{"obs":0.128,"pred":0.134},{"obs":0.132,"pred":0.125},{"obs":0.136,"pred":0.142},{"obs":0.140,"pred":0.133},{"obs":0.144,"pred":0.150},{"obs":0.148,"pred":0.142},{"obs":0.152,"pred":0.158},{"obs":0.156,"pred":0.150},{"obs":0.160,"pred":0.166},{"obs":0.164,"pred":0.158},{"obs":0.168,"pred":0.174},{"obs":0.172,"pred":0.166},{"obs":0.176,"pred":0.182},{"obs":0.180,"pred":0.174},{"obs":0.185,"pred":0.191},{"obs":0.190,"pred":0.183},{"obs":0.195,"pred":0.201},{"obs":0.200,"pred":0.193},{"obs":0.205,"pred":0.211},{"obs":0.210,"pred":0.203},{"obs":0.215,"pred":0.220},{"obs":0.220,"pred":0.214},{"obs":0.225,"pred":0.231},{"obs":0.230,"pred":0.223},{"obs":0.236,"pred":0.242},{"obs":0.242,"pred":0.235},{"obs":0.248,"pred":0.254},{"obs":0.254,"pred":0.248},{"obs":0.260,"pred":0.266},{"obs":0.267,"pred":0.261},{"obs":0.274,"pred":0.280},{"obs":0.281,"pred":0.274},{"obs":0.288,"pred":0.294},{"obs":0.296,"pred":0.289},{"obs":0.304,"pred":0.310},{"obs":0.312,"pred":0.306},{"obs":0.320,"pred":0.326},{"obs":0.329,"pred":0.323},{"obs":0.338,"pred":0.344},{"obs":0.347,"pred":0.341},{"obs":0.356,"pred":0.362},{"obs":0.366,"pred":0.360},{"obs":0.376,"pred":0.382},{"obs":0.386,"pred":0.381},{"obs":0.396,"pred":0.402},{"obs":0.406,"pred":0.401},{"obs":0.418,"pred":0.423},{"obs":0.430,"pred":0.425},{"obs":0.442,"pred":0.446},
      {"obs":-0.451,"pred":-0.441},{"obs":-0.436,"pred":-0.444},{"obs":-0.421,"pred":-0.412},{"obs":-0.407,"pred":-0.417},{"obs":-0.393,"pred":-0.381},{"obs":-0.377,"pred":-0.386},{"obs":-0.363,"pred":-0.352},{"obs":-0.349,"pred":-0.357},{"obs":-0.333,"pred":-0.322},{"obs":-0.318,"pred":-0.329},{"obs":-0.302,"pred":-0.291},{"obs":-0.288,"pred":-0.297},{"obs":-0.274,"pred":-0.262},{"obs":-0.259,"pred":-0.268},{"obs":-0.243,"pred":-0.232},{"obs":-0.229,"pred":-0.238},{"obs":-0.213,"pred":-0.201},{"obs":-0.199,"pred":-0.208},{"obs":-0.185,"pred":-0.173},{"obs":-0.170,"pred":-0.178},{"obs":-0.155,"pred":-0.143},{"obs":-0.141,"pred":-0.150},{"obs":-0.126,"pred":-0.114},{"obs":-0.111,"pred":-0.120},{"obs":-0.097,"pred":-0.086},{"obs":-0.082,"pred":-0.091},{"obs":-0.067,"pred":-0.056},{"obs":-0.053,"pred":-0.061},{"obs":-0.038,"pred":-0.026},{"obs":-0.023,"pred":-0.031},{"obs":-0.009,"pred":0.003},{"obs":0.006,"pred":-0.004},{"obs":0.021,"pred":0.033},{"obs":0.035,"pred":0.027},{"obs":0.050,"pred":0.061},{"obs":0.065,"pred":0.057},{"obs":0.079,"pred":0.091},{"obs":0.094,"pred":0.086},{"obs":0.109,"pred":0.121},{"obs":0.123,"pred":0.113},{"obs":0.138,"pred":0.150},{"obs":0.153,"pred":0.144},{"obs":0.167,"pred":0.179},{"obs":0.182,"pred":0.175},{"obs":0.197,"pred":0.209},{"obs":0.211,"pred":0.203},{"obs":0.226,"pred":0.238},{"obs":0.241,"pred":0.233},{"obs":0.255,"pred":0.267},{"obs":0.270,"pred":0.262},{"obs":0.285,"pred":0.297},{"obs":0.299,"pred":0.291},{"obs":0.314,"pred":0.326},{"obs":0.329,"pred":0.320},{"obs":0.343,"pred":0.355},{"obs":0.358,"pred":0.349},{"obs":0.373,"pred":0.385},{"obs":0.388,"pred":0.379},{"obs":0.402,"pred":0.414},{"obs":0.417,"pred":0.410}
    ]
  },
  "spacing": 83,
  "vconcat": [
    {
      "spacing": 44,
      "hconcat": [
        {
          "width": 475,
          "height": 488,
          "layer": [
            {
              "data": {"values": [{}]},
              "mark": {"type": "rule", "color": "#6b6b6b", "strokeWidth": 1.5},
              "encoding": {
                "x": {"datum": 0, "type": "quantitative", "scale": {"domain": [0, 1.1], "range": [20, 475], "nice": false, "zero": false},
                      "axis": {"orient": "top", "values": [0.2, 0.4, 0.6, 0.8, 1.0], "labels": false, "title": null}},
                "y": {"datum": 0, "type": "quantitative", "scale": {"domain": [0, 1.1], "nice": false, "zero": false},
                      "axis": {"orient": "right", "values": [0.2, 0.4, 0.6, 0.8, 1.0], "labels": false, "title": null}},
                "x2": {"datum": 1.1},
                "y2": {"datum": 1.1}
              }
            },
            {
              "data": {"name": "ampOnePlane"},
              "mark": {"type": "circle", "size": 20, "color": "#1e1e1e", "opacity": 1},
              "encoding": {
                "x": {"field": "obs", "type": "quantitative", "scale": {"domain": [0, 1.1], "range": [20, 475], "nice": false, "zero": false},
                      "axis": {"orient": "bottom", "values": [0.2, 0.4, 0.6, 0.8, 1.0], "format": ".1f", "labelPadding": 35, "title": "Observed Amplitude", "titlePadding": 24}},
                "y": {"field": "pred", "type": "quantitative", "scale": {"domain": [0, 1.1], "nice": false, "zero": false},
                      "axis": {"orient": "left", "offset": -20, "values": [0.2, 0.4, 0.6, 0.8, 1.0], "format": ".1f", "labelPadding": 35, "title": "Predicted Amplitude", "titlePadding": 20}}
              }
            },
            {
              "data": {"values": [{}]},
              "mark": {"type": "text", "text": "One-Plane Wave", "align": "left", "baseline": "middle", "fontSize": 25, "color": "#000000"},
              "encoding": {
                "x": {"datum": 0.125, "type": "quantitative", "axis": null},
                "y": {"datum": 0.993, "type": "quantitative", "axis": null}
              }
            }
          ],
          "resolve": {"axis": {"x": "independent", "y": "independent"}}
        },
        {
          "width": 452,
          "height": 490,
          "layer": [
            {
              "data": {"values": [{}]},
              "mark": {"type": "rule", "color": "#6b6b6b", "strokeWidth": 1.5},
              "encoding": {
                "x": {"datum": 0, "type": "quantitative", "scale": {"domain": [0, 1.1], "nice": false, "zero": false},
                      "axis": {"orient": "top", "values": [0.2, 0.4, 0.6, 0.8, 1.0], "labels": false, "title": null}},
                "y": {"datum": 0, "type": "quantitative", "scale": {"domain": [0, 1.1], "nice": false, "zero": false},
                      "axis": {"orient": "right", "values": [0.2, 0.4, 0.6, 0.8, 1.0], "labels": false, "title": null}},
                "x2": {"datum": 1.1},
                "y2": {"datum": 1.1}
              }
            },
            {
              "data": {"name": "ampTwoPlane"},
              "mark": {"type": "circle", "size": 20, "color": "#1e1e1e", "opacity": 1},
              "encoding": {
                "x": {"field": "obs", "type": "quantitative", "scale": {"domain": [0, 1.1], "nice": false, "zero": false},
                      "axis": {"orient": "bottom", "values": [0.2, 0.4, 0.6, 0.8, 1.0], "format": ".1f", "labelPadding": 37, "title": "Observed Amplitude", "titlePadding": 28}},
                "y": {"field": "pred", "type": "quantitative", "scale": {"domain": [0, 1.1], "nice": false, "zero": false},
                      "axis": {"orient": "left", "values": [0.2, 0.4, 0.6, 0.8, 1.0], "format": ".1f", "labelPadding": 38, "title": null}}
              }
            },
            {
              "data": {"values": [{}]},
              "mark": {"type": "text", "text": "Two-Plane Wave", "align": "left", "baseline": "middle", "fontSize": 25, "color": "#000000"},
              "encoding": {
                "x": {"datum": 0.133, "type": "quantitative", "axis": null},
                "y": {"datum": 0.993, "type": "quantitative", "axis": null}
              }
            }
          ],
          "resolve": {"axis": {"x": "independent", "y": "independent"}}
        }
      ]
    },
    {
      "spacing": 28,
      "hconcat": [
        {
          "width": 470,
          "height": 506,
          "layer": [
            {
              "data": {"values": [{}]},
              "mark": {"type": "rule", "color": "#6b6b6b", "strokeWidth": 1.5},
              "encoding": {
                "x": {"datum": -0.5, "type": "quantitative", "scale": {"domain": [-0.5, 0.5], "nice": false, "zero": false},
                      "axis": {"orient": "top", "values": [-0.4, -0.3, -0.2, -0.1, 0, 0.1, 0.2, 0.3, 0.4], "labels": false, "title": null,
                               "tickSize": {"condition": {"test": "abs(round(datum.value*10)) % 2 == 0", "value": -10}, "value": -5}}},
                "y": {"datum": -0.5, "type": "quantitative", "scale": {"domain": [-0.5, 0.5], "nice": false, "zero": false},
                      "axis": {"orient": "right", "values": [-0.4, -0.3, -0.2, -0.1, 0, 0.1, 0.2, 0.3, 0.4], "labels": false, "title": null,
                               "tickSize": {"condition": {"test": "abs(round(datum.value*10)) % 2 == 0", "value": -10}, "value": -5}}},
                "x2": {"datum": 0.5},
                "y2": {"datum": 0.5}
              }
            },
            {
              "data": {"name": "phaseOnePlane"},
              "mark": {"type": "circle", "size": 20, "color": "#1e1e1e", "opacity": 1},
              "encoding": {
                "x": {"field": "obs", "type": "quantitative", "scale": {"domain": [-0.5, 0.5], "nice": false, "zero": false},
                      "axis": {"orient": "bottom", "values": [-0.4, -0.3, -0.2, -0.1, 0, 0.1, 0.2, 0.3, 0.4],
                               "tickSize": {"condition": {"test": "abs(round(datum.value*10)) % 2 == 0", "value": -10}, "value": -5},
                               "labelExpr": "round(datum.value*10) == -4 ? '-0.4' : round(datum.value*10) == -2 ? '-0.2' : round(datum.value*10) == 0 ? '0.0' : round(datum.value*10) == 2 ? '0.2' : round(datum.value*10) == 4 ? '0.4' : ''",
                               "labelPadding": 35, "title": "Observed phase", "titlePadding": 18}},
                "y": {"field": "pred", "type": "quantitative", "scale": {"domain": [-0.5, 0.5], "nice": false, "zero": false},
                      "axis": {"orient": "left", "values": [-0.4, -0.3, -0.2, -0.1, 0, 0.1, 0.2, 0.3, 0.4],
                               "tickSize": {"condition": {"test": "abs(round(datum.value*10)) % 2 == 0", "value": -10}, "value": -5},
                               "labelExpr": "round(datum.value*10) == -4 ? '-0.4' : round(datum.value*10) == -2 ? '-0.2' : round(datum.value*10) == 0 ? '0.0' : round(datum.value*10) == 2 ? '0.4' : round(datum.value*10) == 4 ? '0.8' : ''",
                               "labelPadding": 30, "title": "Predicted phase", "titlePadding": 17}}
              }
            },
            {
              "data": {"values": [{}]},
              "mark": {"type": "text", "text": "One-Plane Wave", "align": "left", "baseline": "middle", "fontSize": 25, "color": "#000000"},
              "encoding": {
                "x": {"datum": -0.383, "type": "quantitative", "axis": null},
                "y": {"datum": 0.368, "type": "quantitative", "axis": null}
              }
            }
          ],
          "resolve": {"axis": {"x": "independent", "y": "independent"}}
        },
        {
          "width": 469,
          "height": 507,
          "layer": [
            {
              "data": {"values": [{}]},
              "mark": {"type": "rule", "color": "#6b6b6b", "strokeWidth": 1.5},
              "encoding": {
                "x": {"datum": -0.5, "type": "quantitative", "scale": {"domain": [-0.5, 0.5], "nice": false, "zero": false},
                      "axis": {"orient": "top", "values": [-0.4, -0.3, -0.2, -0.1, 0, 0.1, 0.2, 0.3, 0.4], "labels": false, "title": null,
                               "tickSize": {"condition": {"test": "abs(round(datum.value*10)) % 2 == 0", "value": -10}, "value": -5}}},
                "y": {"datum": -0.5, "type": "quantitative", "scale": {"domain": [-0.5, 0.5], "nice": false, "zero": false},
                      "axis": {"orient": "right", "values": [-0.4, -0.3, -0.2, -0.1, 0, 0.1, 0.2, 0.3, 0.4], "labels": false, "title": null,
                               "tickSize": {"condition": {"test": "abs(round(datum.value*10)) % 2 == 0", "value": -10}, "value": -5}}},
                "x2": {"datum": 0.5},
                "y2": {"datum": 0.5}
              }
            },
            {
              "data": {"name": "phaseTwoPlane"},
              "mark": {"type": "circle", "size": 20, "color": "#1e1e1e", "opacity": 1},
              "encoding": {
                "x": {"field": "obs", "type": "quantitative", "scale": {"domain": [-0.5, 0.5], "nice": false, "zero": false},
                      "axis": {"orient": "bottom", "values": [-0.4, -0.3, -0.2, -0.1, 0, 0.1, 0.2, 0.3, 0.4],
                               "tickSize": {"condition": {"test": "abs(round(datum.value*10)) % 2 == 0", "value": -10}, "value": -5},
                               "labelExpr": "round(datum.value*10) == -4 ? '-0.4' : round(datum.value*10) == -2 ? '-0.2' : round(datum.value*10) == 0 ? '0.0' : round(datum.value*10) == 2 ? '0.2' : round(datum.value*10) == 4 ? '0.4' : ''",
                               "labelPadding": 39, "title": "Observed phase", "titlePadding": 22}},
                "y": {"field": "pred", "type": "quantitative", "scale": {"domain": [-0.5, 0.5], "nice": false, "zero": false},
                      "axis": {"orient": "left", "values": [-0.4, -0.3, -0.2, -0.1, 0, 0.1, 0.2, 0.3, 0.4],
                               "tickSize": {"condition": {"test": "abs(round(datum.value*10)) % 2 == 0", "value": -10}, "value": -5},
                               "labelExpr": "round(datum.value*10) == -4 ? '-0.4' : round(datum.value*10) == -2 ? '-0.2' : round(datum.value*10) == 0 ? '0.0' : round(datum.value*10) == 2 ? '0.4' : round(datum.value*10) == 4 ? '0.8' : ''",
                               "labelPadding": 33, "title": null}}
              }
            },
            {
              "data": {"values": [{}]},
              "mark": {"type": "text", "text": "Two-Plane Wave", "align": "left", "baseline": "middle", "fontSize": 25, "color": "#000000"},
              "encoding": {
                "x": {"datum": -0.378, "type": "quantitative", "axis": null},
                "y": {"datum": 0.358, "type": "quantitative", "axis": null}
              }
            }
          ],
          "resolve": {"axis": {"x": "independent", "y": "independent"}}
        }
      ]
    }
  ]
}
